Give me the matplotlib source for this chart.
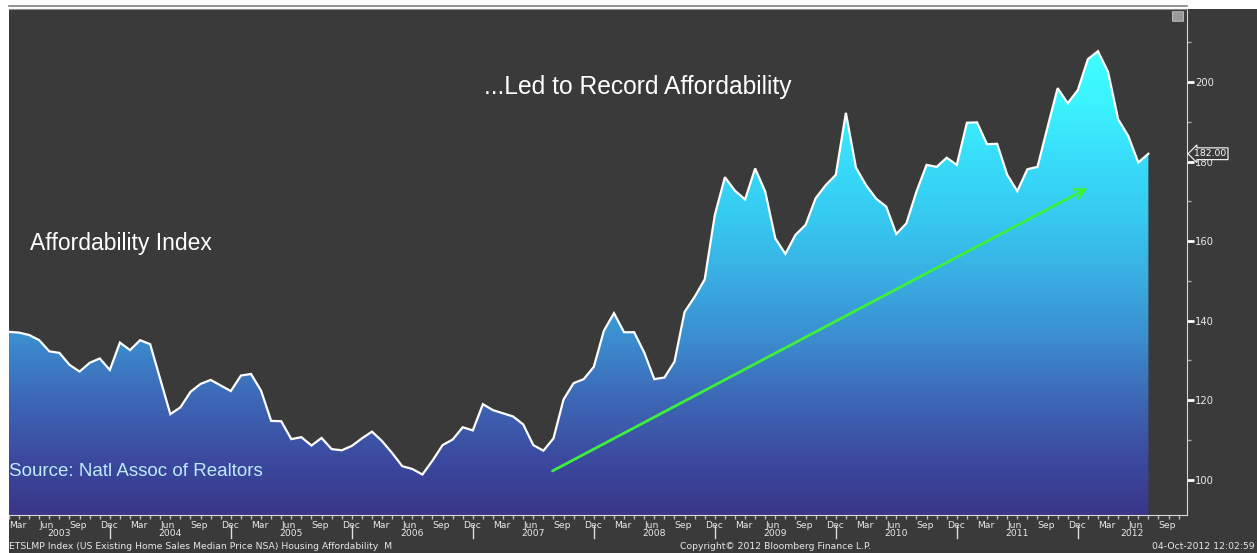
import matplotlib
matplotlib.use("Agg")
import matplotlib.pyplot as plt
import numpy as np
from matplotlib.colors import LinearSegmentedColormap, Normalize
from matplotlib import transforms
from matplotlib.patches import Rectangle, FancyBboxPatch
from matplotlib.lines import Line2D
from matplotlib.path import Path

# ---------------- data (monthly, Feb 2003 .. Jul 2012) ----------------
affordability = [
    137.2, 137.0, 136.4, 135.1, 132.3, 131.9, 128.9, 127.2, 129.4, 130.5, 127.6,   # 2003 Feb-Dec
    134.5, 132.6, 135.1, 134.1, 125.3, 116.5, 118.2, 122.1, 124.1, 125.1, 123.7, 122.3,  # 2004
    126.2, 126.6, 122.4, 114.8, 114.7, 110.2, 110.7, 108.6, 110.5, 107.7, 107.4, 108.5,  # 2005
    110.4, 112.1, 109.7, 106.7, 103.4, 102.7, 101.3, 104.8, 108.7, 110.1, 113.2, 112.4,  # 2006
    119.0, 117.5, 116.7, 115.9, 113.9, 108.7, 107.3, 110.4, 120.2, 124.3, 125.3, 128.4,  # 2007
    137.5, 141.9, 137.1, 137.1, 132.0, 125.3, 125.7, 129.7, 142.2, 146.0, 150.4, 166.6,  # 2008
    176.1, 172.7, 170.5, 178.3, 172.5, 160.7, 156.8, 161.6, 164.1, 170.8, 174.1, 176.7,  # 2009
    192.3, 178.5, 174.1, 170.7, 168.7, 161.8, 164.5, 172.5, 179.2, 178.7, 181.0, 179.2,  # 2010
    189.8, 189.9, 184.4, 184.5, 176.7, 172.6, 178.1, 178.7, 188.7, 198.5, 194.7, 198.0,  # 2011
    205.8, 207.8, 202.6, 190.7, 186.5, 179.8, 182.0,                                     # 2012 Jan-Jul
]
month_labels = ["Mar", "Jun", "Sep", "Dec"]
years = list(range(2003, 2013))
y_major = [100, 120, 140, 160, 180, 200]
y_minor = [110, 130, 150, 170, 190, 210]
last_value_label = "182.00"
title_text = "...Led to Record Affordability"
series_text = "Affordability Index"
source_text = "Source: Natl Assoc of Realtors"
footer_left = "ETSLMP Index (US Existing Home Sales Median Price NSA) Housing Affordability  M"
footer_mid = "Copyright\u00a9 2012 Bloomberg Finance L.P."
footer_right = "04-Oct-2012 12:02:59"
trend_start = (53.9, 102.2)
trend_end = (107.0, 173.4)

# ---------------- layout ----------------
W, H = 1257, 553
BG = "#3a3a3a"
TXT = "#e8e8e8"
fig = plt.figure(figsize=(W / 100, H / 100), dpi=100)
fig.patch.set_facecolor("white")


def fx(px):
    return px / W


def fy(py):
    return 1 - py / H


fig.patches.append(Rectangle((fx(9), 0), 1 - fx(9), fy(9), transform=fig.transFigure,
                             facecolor=BG, edgecolor="none", zorder=-10))
fig.lines.append(Line2D([fx(9), fx(1187)], [fy(6.3)] * 2, transform=fig.transFigure,
                        color="#808080", lw=1.2))

ax = fig.add_axes([fx(9), fy(515), fx(1186.7) - fx(9), fy(9.3) - fy(515)])
ax.set_zorder(2)
ax.set_facecolor(BG)

vals = np.array(affordability)
x = np.arange(len(vals))  # month index; 0 == start of Mar 2003
ylo, yhi = 91.12, 218.34

# gradient fill under the line
cmap = LinearSegmentedColormap.from_list("aff", [
    (0.00, "#3a3789"), (0.11, "#3b4a9f"), (0.24, "#3d68b6"), (0.37, "#3b8ecf"),
    (0.50, "#39aee2"), (0.62, "#36c8f0"), (0.75, "#38dcf9"), (0.88, "#3cf4fe"),
    (1.00, "#40ffff")])
verts = np.column_stack([np.r_[x[0], x, x[-1]], np.r_[ylo, vals, ylo]])
clip = Path(verts)
grad = np.linspace(ylo, yhi, 600).reshape(-1, 1)
im = ax.imshow(grad, cmap=cmap, norm=Normalize(92, 210), origin="lower", aspect="auto",
               extent=[x[0], x[-1], ylo, yhi], zorder=1, interpolation="bilinear")
im.set_clip_path(clip, transform=ax.transData)
ax.plot(x, vals, color="white", lw=1.6, zorder=3, solid_joinstyle="miter")

ax.set_xlim(0, 116.8)
ax.set_ylim(ylo, yhi)

# trend arrow
ax.annotate("", xy=trend_end, xytext=trend_start,
            arrowprops=dict(arrowstyle="->", color="#3cf03c", lw=2, mutation_scale=18,
                            shrinkA=0, shrinkB=0), zorder=4)

# axes styling
ax.spines["left"].set_visible(False)
ax.spines["right"].set_color("#d8d8d8")
ax.spines["bottom"].set_color("#d8d8d8")
ax.spines["top"].set_color("#8a8a8a")
ax.yaxis.tick_right()
ax.set_yticks(y_major)
ax.set_yticks(y_minor, minor=True)
ax.set_yticklabels([str(v) for v in y_major])
ax.tick_params(axis="y", which="major", direction="out", length=5, width=2,
               color="white", labelcolor=TXT, labelsize=7.2, pad=1)
ax.tick_params(axis="y", which="minor", direction="out", length=3, width=1, color="#aaaaaa")

qpos = list(range(0, 115, 3))
ax.set_xticks(qpos)
ax.set_xticklabels([month_labels[i % 4] for i in range(len(qpos))])
ax.set_xticks(range(0, 117), minor=True)
ax.tick_params(axis="x", which="both", direction="out", length=3, width=1,
               color="#bbbbbb", labelcolor=TXT, labelsize=6.7, pad=1.5)
for lab in ax.get_xticklabels():
    lab.set_horizontalalignment("left")

# year labels and separators
bt = transforms.blended_transform_factory(ax.transData, fig.transFigure)
x0, x1 = ax.get_xlim()
for yr in years:
    a = (yr - 2003) * 12 - 2
    b = a + 12
    c = (max(a, x0) + min(b, x1)) / 2
    fig.text(c, fy(533), str(yr), transform=bt, ha="center", va="center",
             fontsize=6.7, color=TXT)
    if yr > 2003:
        fig.lines.append(Line2D([a, a], [fy(526), fy(538)], transform=bt,
                                color="#dddddd", lw=1))

# annotations
fig.text(fx(637.5), fy(87), title_text, ha="center", va="center", fontsize=17.7,
         color="white", family="Liberation Sans", zorder=5)
fig.text(fx(30), fy(243), series_text, ha="left", va="center", fontsize=16.5,
         color="white", family="Liberation Sans", zorder=5)
fig.text(fx(9), fy(471), source_text, ha="left", va="center", fontsize=13.5,
         color="#bdebff", family="Liberation Sans", zorder=5)

# last value tag
ax.text(1.0065, vals[-1], last_value_label, transform=ax.get_yaxis_transform(),
        ha="left", va="center", fontsize=6.7, color="white", zorder=6,
        bbox=dict(boxstyle="larrow,pad=0.15", fc=BG, ec="white", lw=0.8))

# small widget icon top-right
fig.patches.append(FancyBboxPatch((fx(1173), fy(21)), fx(10), 9 / H,
                                  boxstyle="round,pad=0.0005", transform=fig.transFigure,
                                  fc="#9a9a9a", ec="#c8c8c8", lw=0.6, zorder=5))

# footer
fig.text(fx(9), fy(546.5), footer_left, ha="left", va="center", fontsize=6.7, color=TXT)
fig.text(fx(680), fy(546.5), footer_mid, ha="left", va="center", fontsize=6.7, color=TXT)
fig.text(fx(1255), fy(546.5), footer_right, ha="right", va="center", fontsize=6.7, color=TXT)

fig.savefig("out.png", dpi=100, facecolor=fig.get_facecolor())
